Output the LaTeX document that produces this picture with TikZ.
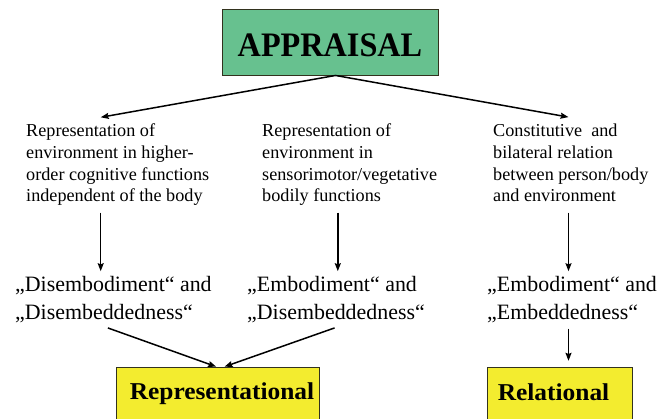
\documentclass[tikz,border=0pt]{standalone}
\usepackage{fontspec}
\setmainfont{Liberation Serif}
\newfontfamily\apprfont[FakeStretch=0.94]{Liberation Serif}
\newfontfamily\kindfont[FakeStretch=1.05]{Liberation Serif}
\usetikzlibrary{arrows.meta,calc}
\definecolor{apprgreen}{RGB}{103,193,143}
\definecolor{kindyellow}{RGB}{243,236,47}
\definecolor{boxline}{RGB}{50,50,30}
\begin{document}
\begin{tikzpicture}[x=1pt,y=-1pt,
  arr/.style={-{Stealth[length=8pt,width=6pt,inset=1.2pt]}, line width=1.5pt},
  smalltext/.style={anchor=north west, inner sep=0pt, align=left,
    font=\fontsize{18.2}{21.7}\selectfont},
  bigtext/.style={anchor=north west, inner sep=0pt, align=left,
    font=\fontsize{21.9}{27.3}\selectfont},
  greenbox/.style={draw=boxline, line width=0.9pt, fill=apprgreen,
    minimum width=216pt, minimum height=66pt, inner sep=0pt,
    text height=28pt, text depth=0pt,
    font=\apprfont\bfseries\fontsize{34.3}{40}\selectfont},
  yellowbox/.style={draw=boxline, line width=0.9pt, fill=kindyellow,
    anchor=north west, inner xsep=0pt, inner ysep=0pt, align=left,
    text height=32.3pt, text depth=25pt,
    font=\kindfont\bfseries\fontsize{24.2}{29}\selectfont}]
\useasboundingbox (0,0) rectangle (658,418);
\fill[white] (0,0) rectangle (658,418);

\coordinate (cL) at (100.7,0);
\coordinate (cM) at (337.8,0);
\coordinate (cR) at (568.5,0);

\node[greenbox] (appr) at (330,42) {APPRAISAL};

\node[smalltext] (t1) at (26,121.5) {\strut Representation of\\\strut environment in higher-\\\strut order cognitive functions\\\strut independent of the body};
\node[smalltext] (t2) at (262,121.5) {\strut Representation of\\\strut environment in\\\strut sensorimotor/vegetative\\\strut bodily functions};
\node[smalltext] (t3) at (493,121.5) {\strut Constitutive\ \ and\\\strut bilateral relation\\\strut between person/body\\\strut and environment};

\node[bigtext] (d1) at (15,272.6) {\strut „Disembodiment“ and\\\strut „Disembeddedness“};
\node[bigtext] (d2) at (247,272.6) {\strut „Embodiment“ and\\\strut „Disembeddedness“};
\node[bigtext] (d3) at (487,272.6) {\strut „Embodiment“ and\\\strut „Embeddedness“};

\node[yellowbox, text width=203.3pt] (rep) at (116,367) {\hspace*{13.3pt}Representational};
\node[yellowbox, text width=145pt] (rel) at (486.7,367.3) {\hspace*{10.6pt}Relational};

\draw[arr] ([xshift=5.5pt]appr.south) -- ($(t1.north -| cL)+(0,-4.2)$);
\draw[arr] ([xshift=5.5pt]appr.south) -- ($(t3.north -| cR)+(0,-4.4)$);

\draw[arr, shorten <=3.8pt, shorten >=1.4pt] (t1.south -| cL) -- (d1.north -| cL);
\draw[arr, shorten <=3.8pt, shorten >=1.4pt] (t2.south -| cM) -- (d2.north -| cM);
\draw[arr, shorten <=3.8pt, shorten >=1.4pt] (t3.south -| cR) -- (d3.north -| cR);

\draw[arr, shorten <=1pt, shorten >=1pt] ([xshift=-6.5pt]d1.south) -- ([xshift=-1pt]rep.north);
\draw[arr, shorten <=1pt, shorten >=1pt] ([xshift=-0.5pt]d2.south) -- ([xshift=5.5pt]rep.north);
\draw[arr, shorten <=1pt, shorten >=6.5pt] (d3.south -| cR) -- (rel.north -| cR);
\end{tikzpicture}
\end{document}
